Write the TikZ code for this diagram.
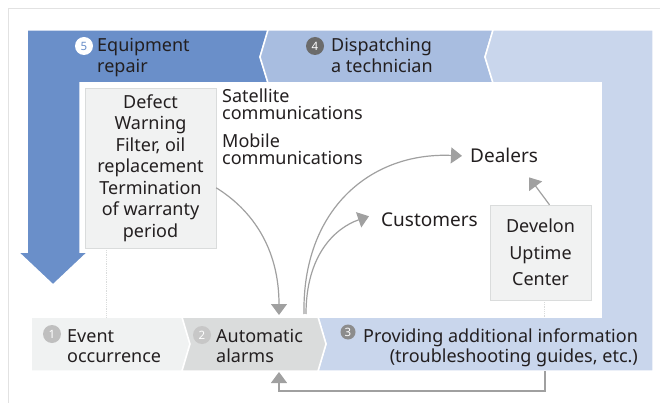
\documentclass[tikz,border=0pt]{standalone}
\usepackage{fontspec}
\setmainfont{Noto Sans}
\usetikzlibrary{arrows.meta, positioning, calc}

\definecolor{bandDark}{RGB}{106,143,201}
\definecolor{bandMid}{RGB}{168,189,224}
\definecolor{bandLight}{RGB}{201,214,236}
\definecolor{greyLight}{RGB}{240,242,242}
\definecolor{greyMid}{RGB}{218,220,220}
\definecolor{boxFill}{RGB}{241,242,242}
\definecolor{boxLine}{RGB}{218,220,220}
\definecolor{frameGrey}{RGB}{226,226,226}
\definecolor{arrowGrey}{RGB}{160,160,160}
\definecolor{txtDark}{RGB}{35,31,32}

\begin{document}
\begin{tikzpicture}[x=1pt, y=-1pt,
  band/.style={draw=white, line width=1.5pt},
  lbl/.style={font=\fontsize{18}{20.5}\selectfont, inner sep=0pt, align=left, text=txtDark},
  num/.style={circle, inner sep=0pt, minimum size=18pt, text=white,
              font=\fontsize{11.5}{11.5}\selectfont\bfseries},
  note/.style={draw=boxLine, fill=boxFill, inner sep=0pt, align=center, text=txtDark,
               font=\fontsize{18}{21.5}\selectfont},
  conn/.style={draw=arrowGrey, line width=1.2pt, -{Triangle[width=16pt,length=11pt]}},
  guide/.style={draw=boxLine, densely dotted, line width=0.8pt}]

  \useasboundingbox (0,0) rectangle (660,403);

  % Outer frame (top and left edges only)
  \draw[frameGrey, line width=1pt] (8,403) -- (8,9) -- (660,9);

  % Loop bands: 5 runs into the down arrow, 4 in the middle, 3 along the right and bottom
  \path[band, fill=bandDark] (27,30) -- (268,30) -- (260,57) -- (268,83) -- (80,83)
    -- (80,252) -- (88,252) -- (53,285) -- (18,252) -- (27,252) -- cycle;
  \path[band, fill=bandMid] (268,30) -- (493,30) -- (485,57) -- (493,83) -- (268,83)
    -- (260,57) -- cycle;
  \path[band, fill=bandLight] (493,30) -- (653,30) -- (653,371) -- (318,371) -- (326,344)
    -- (318,317) -- (601,317) -- (601,83) -- (493,83) -- (485,57) -- cycle;
  \path[band, fill=greyLight] (31,317) -- (182,317) -- (190,344) -- (182,371) -- (31,371) -- cycle;
  \path[band, fill=greyMid] (182,317) -- (318,317) -- (326,344) -- (318,371) -- (182,371)
    -- (190,344) -- cycle;

  % Step labels (base = baseline of the last line)
  \node[num, fill=white, text=bandDark] (n5) at (84,46) {5};
  \node[lbl, anchor=base west] (repair) at (97,72.5) {Equipment\\repair};
  \node[num, fill=black!58] (n4) at (315,46) {4};
  \node[lbl, anchor=base west] (dispatch) at (331,72.5) {Dispatching\\a technician};
  \node[num, fill=black!25] (n1) at (52,334) {1};
  \node[lbl, anchor=base west] (event) at (67,362.5) {Event\\occurrence};
  \node[num, fill=black!22] (n2) at (202,335) {2};
  \node[lbl, anchor=base west] (alarm) at (216,362.5) {Automatic\\alarms};
  \node[num, fill=black!45, minimum size=15pt] (n3) at (348,332) {3};
  \node[lbl, anchor=base west, align=right] (info) at (363,362.5)
    {Providing additional information\\(troubleshooting guides, etc.)};

  % Boxes and texts inside the loop
  \node[note, minimum width=131pt, minimum height=160pt] (defect) at (150.5,168)
    {Defect\\Warning\\Filter, oil\\replacement\\Termination\\of warranty\\period};
  \node[lbl, anchor=base west, font=\fontsize{18}{17}\selectfont] (sat) at (222,120)
    {Satellite\\communications};
  \node[lbl, anchor=base west, font=\fontsize{18}{17}\selectfont] (mobile) at (222,165)
    {Mobile\\communications};
  \node[lbl, anchor=base west, font=\fontsize{19}{19}\selectfont] (dealers) at (470,163) {Dealers};
  \node[lbl, anchor=base west, font=\fontsize{19}{19}\selectfont] (customers) at (381,226) {Customers};
  \node[note, minimum width=101pt, minimum height=95pt, font=\fontsize{18}{26.5}\selectfont]
    (uptime) at (540.5,252.5) {Develon\\Uptime\\Center};

  % Ends on the bands
  \coordinate (alarmIn) at (279,315);
  \coordinate (alarmOutA) at (304,314);
  \coordinate (alarmOutB) at (306,314);
  \coordinate (alarmBack) at (279,372);
  \coordinate (infoOut) at (545,371);

  % Connectors
  \draw[conn] ($(defect.north east)+(0,100)$) .. controls (252,210) and (279,248) .. (alarmIn);
  \draw[conn] (alarmOutA) .. controls (302,210) and (370,152) .. ($(dealers.west)+(-8,0)$);
  \draw[conn] (alarmOutB) .. controls (306,255) and (335,228) .. ($(customers.west)+(-12,-3)$);
  \draw[conn] ($(uptime.north)+(9,0)$) -- ($(dealers.south)+(25,14)$);
  \draw[conn] (infoOut) -- ++(0,20) -| (alarmBack);

  % Dotted guides down to the bottom band
  \draw[guide] ($(defect.south west)+(22,0)$) -- ++(0,69);
  \draw[guide] ($(uptime.south)+(4,0)$) -- ++(0,17);

\end{tikzpicture}
\end{document}
